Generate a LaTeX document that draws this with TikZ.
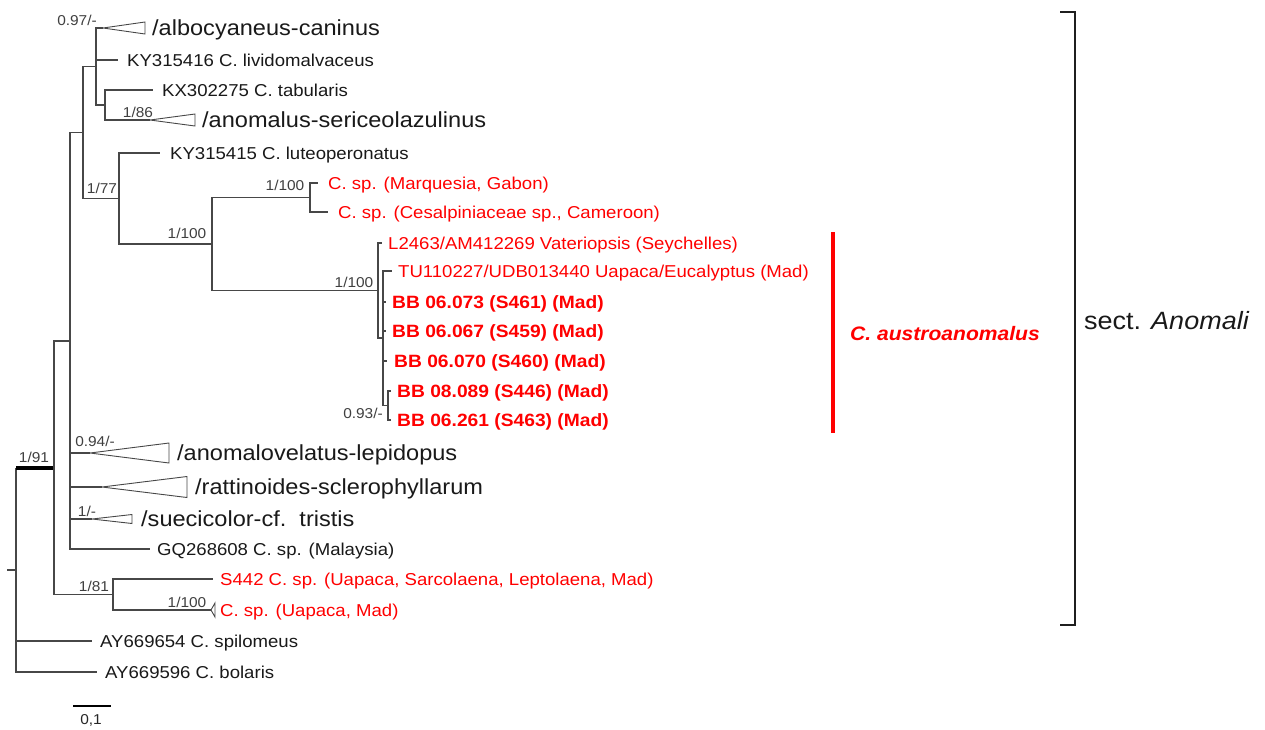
\documentclass[tikz,border=0pt]{standalone}
\usepackage{fontspec}
\setmainfont{Liberation Sans}[FakeStretch=1.08]
\begin{document}
\begin{tikzpicture}[x=1pt,y=-1pt,
  br/.style={draw=black!72, line width=1.2pt},
  tri/.style={draw=black!72, line width=0.9pt},
  tip/.style={anchor=base west, inner sep=0pt, font=\fontsize{17.2}{18}\selectfont, text=black!90},
  big/.style={tip, font=\fontsize{21.8}{24}\selectfont},
  redtip/.style={tip, text=red},
  bbtip/.style={tip, text=red, font=\fontsize{17.8}{19}\selectfont\bfseries},
  sup/.style={inner sep=0pt, font=\fontsize{14.3}{15}\selectfont, text=black!75}]
\useasboundingbox (0,0) rectangle (1265,729);
% internal nodes
\coordinate (Rs) at (7,570);
\coordinate (R) at (16,570);
\coordinate (G) at (54,468);
\coordinate (F) at (70,341);
\coordinate (H) at (113,594.5);
\coordinate (C) at (83,132.5);
\coordinate (A) at (96,66.5);
\coordinate (D) at (119,198.5);
\coordinate (B) at (105,105);
\coordinate (E) at (212,244);
\coordinate (J) at (310,197.5);
\coordinate (K) at (378,290.5);
\coordinate (M) at (383,338);
\coordinate (N) at (388,405.5);
% tips
\coordinate (t1) at (103,28);
\coordinate (t2) at (118,60);
\coordinate (t3) at (153,90);
\coordinate (t4) at (150,120);
\coordinate (t5) at (160,153);
\coordinate (t6) at (318,183);
\coordinate (t7) at (328,212);
\coordinate (t8) at (382,243);
\coordinate (t9) at (392,271);
\coordinate (t10) at (386,302);
\coordinate (t11) at (386,331);
\coordinate (t12) at (387,361);
\coordinate (t13) at (391,391);
\coordinate (t14) at (391,420);
\coordinate (t15) at (90,453);
\coordinate (t16) at (102,487);
\coordinate (t17) at (92,519);
\coordinate (t18) at (150,549);
\coordinate (t19) at (213,579);
\coordinate (t20) at (211,610);
\coordinate (t21) at (92,641);
\coordinate (t22) at (97,672);
% branches
\draw[br] (Rs) -- (R);
\draw[br] (R) |- (t22);
\draw[br] (R) |- (t21);
\draw[br] (R) -- (R|-G);
\draw[draw=black, line width=4pt] (R|-G) -- (G);
\draw[br] (G) |- (F);
\draw[br] (G) |- (H);
\draw[br] (H) |- (t19);
\draw[br] (H) |- (t20);
\draw[br] (F) |- (C);
\draw[br] (F) |- (t15);
\draw[br] (F) |- (t16);
\draw[br] (F) |- (t17);
\draw[br] (F) |- (t18);
\draw[br] (C) |- (A);
\draw[br] (C) |- (D);
\draw[br] (A) |- (t1);
\draw[br] (A) |- (t2);
\draw[br] (A) |- (B);
\draw[br] (B) |- (t3);
\draw[br] (B) |- (t4);
\draw[br] (D) |- (t5);
\draw[br] (D) |- (E);
\draw[br] (E) |- (J);
\draw[br] (E) |- (K);
\draw[br] (J) |- (t6);
\draw[br] (J) |- (t7);
\draw[br] (K) |- (t8);
\draw[br] (K) |- (M);
\draw[br] (M) |- (t9);
\draw[br] (M) |- (t10);
\draw[br] (M) |- (t11);
\draw[br] (M) |- (t12);
\draw[br] (M) |- (N);
\draw[br] (N) |- (t13);
\draw[br] (N) |- (t14);
% collapsed clades
\draw[tri] (t1) -- ++(42,-6) -- ++(0,12) -- cycle;
\draw[tri] (t4) -- ++(45,-6) -- ++(0,12) -- cycle;
\draw[tri] (t15) -- ++(79,-10) -- ++(0,20) -- cycle;
\draw[tri] (t16) -- ++(85,-10.5) -- ++(0,21) -- cycle;
\draw[tri] (t17) -- ++(40,-4.5) -- ++(0,9) -- cycle;
\draw[tri] (t20) -- ++(4,-7) -- ++(0,14) -- cycle;
% tip labels
\node[big] (L1) at (152,35.8) {/albocyaneus-caninus};
\node[tip] (L2) at (127,66) {KY315416 C. lividomalvaceus};
\node[tip] (L3) at (162,96) {KX302275 C. tabularis};
\node[big] (L4) at (202,127.8) {/anomalus-sericeolazulinus};
\node[tip] (L5) at (170,159) {KY315415 C. luteoperonatus};
\node[redtip] (L6) at (328,189) {C. sp. (Marquesia, Gabon)};
\node[redtip] (L7) at (338,218) {C. sp. (Cesalpiniaceae sp., Cameroon)};
\node[redtip] (L8) at (388,249) {L2463/AM412269 Vateriopsis (Seychelles)};
\node[redtip] (L9) at (398,277) {TU110227/UDB013440 Uapaca/Eucalyptus (Mad)};
\node[bbtip] (L10) at (392,308.4) {BB 06.073 (S461) (Mad)};
\node[bbtip] (L11) at (392,337.4) {BB 06.067 (S459) (Mad)};
\node[bbtip] (L12) at (394,367.4) {BB 06.070 (S460) (Mad)};
\node[bbtip] (L13) at (397,397.4) {BB 08.089 (S446) (Mad)};
\node[bbtip] (L14) at (397,426.4) {BB 06.261 (S463) (Mad)};
\node[big] (L15) at (177,460.8) {/anomalovelatus-lepidopus};
\node[big] (L16) at (195,494.8) {/rattinoides-sclerophyllarum};
\node[big] (L17) at (141,526.8) {/suecicolor-cf.\ \ tristis};
\node[tip] (L18) at (157,555) {GQ268608 C. sp. (Malaysia)};
\node[redtip] (L19) at (220,585) {S442 C. sp. (Uapaca, Sarcolaena, Leptolaena, Mad)};
\node[redtip] (L20) at (220,616) {C. sp. (Uapaca, Mad)};
\node[tip] (L21) at (100,647) {AY669654 C. spilomeus};
\node[tip] (L22) at (105,678) {AY669596 C. bolaris};
% support values
\node[sup] (s1) at (77,20) {0.97/-};
\node[sup] (s2) at (138,112) {1/86};
\node[sup] (s3) at (102,188) {1/77};
\node[sup] (s4) at (285,185) {1/100};
\node[sup] (s5) at (187,233) {1/100};
\node[sup] (s6) at (354,282) {1/100};
\node[sup] (s7) at (363,413) {0.93/-};
\node[sup] (s8) at (95,441) {0.94/-};
\node[sup] (s9) at (87,511) {1/-};
\node[sup] (s10) at (34,457) {1/91};
\node[sup] (s11) at (94,586) {1/81};
\node[sup] (s12) at (187,602) {1/100};
% species bar
\coordinate (rb1) at (833,232);
\coordinate (rb2) at (833,433);
\draw[red, line width=4pt] (rb1) -- (rb2);
\node[anchor=base west, inner sep=0pt, text=red, font=\fontsize{19.5}{20}\selectfont\bfseries\itshape] (sp) at (850,340) {C. austroanomalus};
% section bracket
\coordinate (bk1) at (1060,12);
\coordinate (bk2) at (1075,12);
\coordinate (bk3) at (1075,625);
\coordinate (bk4) at (1060,625);
\draw[black!88, line width=2.6pt] (bk1) -- (bk2) -- (bk3) -- (bk4);
\node[anchor=base west, inner sep=0pt, text=black!90, font=\fontsize{25}{26}\selectfont] (sect) at (1084,329) {sect. \textit{Anomali}};
% scale bar
\coordinate (sc1) at (73,706);
\coordinate (sc2) at (111,706);
\draw[black, line width=1.5pt] (sc1) -- (sc2);
\node[sup, text=black!85] (scl) at (91,720) {0,1};
\end{tikzpicture}
\end{document}
